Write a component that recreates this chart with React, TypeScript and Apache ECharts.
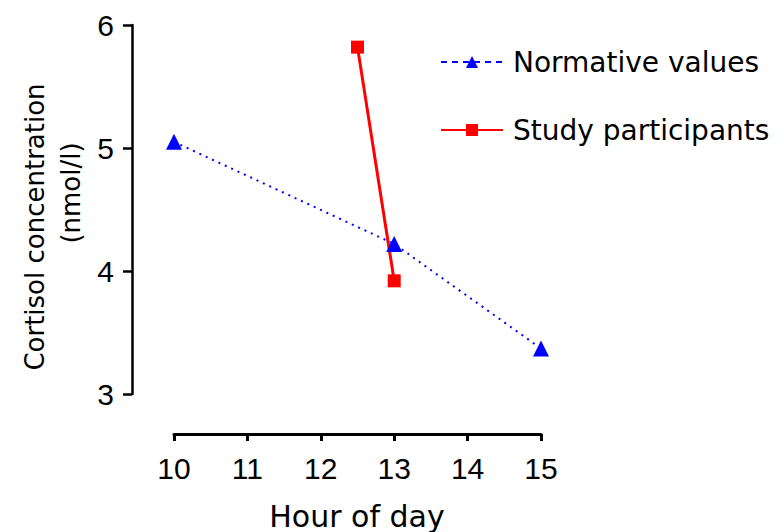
import React, { useEffect, useRef } from "react";
import * as echarts from "echarts";

const xTicks = [10, 11, 12, 13, 14, 15];
const yTicks = [3, 4, 5, 6];
const normativeHours = [10, 13, 15];
const normativeValues = [5.05, 4.22, 3.37];
const studyHours = [12.5, 13];
const studyValues = [5.82, 3.92];
const seriesNames = ["Normative values", "Study participants"];
const xTitle = "Hour of day";
const yTitle1 = "Cortisol concentration";
const yTitle2 = "(nmol/l)";

export default function App() {
  const ref = useRef<HTMLDivElement>(null);
  useEffect(() => {
    if (!ref.current) return;
    const chart = echarts.init(ref.current, null, { renderer: "svg" });
    const textFont = "'DejaVu Sans', sans-serif";
    const numFont = "'Liberation Sans', Arial, sans-serif";
    chart.setOption({
      animation: false,
      backgroundColor: "#ffffff",
      grid: { left: 174, right: 242, top: 25, bottom: 138, containLabel: false },
      xAxis: {
        type: "value",
        min: xTicks[0],
        max: xTicks[xTicks.length - 1],
        interval: 1,
        offset: 40,
        splitLine: { show: false },
        axisLine: { show: true, onZero: false, lineStyle: { color: "#000", width: 3 } },
        axisTick: { show: true, length: 7, lineStyle: { color: "#000", width: 3 } },
        axisLabel: { color: "#000", fontFamily: numFont, fontSize: 30, margin: 19 },
      },
      yAxis: {
        type: "value",
        min: yTicks[0],
        max: yTicks[yTicks.length - 1],
        interval: 1,
        offset: 42,
        splitLine: { show: false },
        axisLine: { show: true, onZero: false, lineStyle: { color: "#000", width: 2.5 } },
        axisTick: { show: true, length: 9, lineStyle: { color: "#000", width: 2.5 } },
        axisLabel: { color: "#000", fontFamily: numFont, fontSize: 30, margin: 18 },
      },
      legend: {
        orient: "vertical",
        left: 440,
        top: 47,
        padding: 0,
        itemWidth: 62,
        itemHeight: 15,
        itemGap: 38,
        textStyle: { color: "#000", fontFamily: textFont, fontSize: 28, lineHeight: 30, padding: [0, 0, 0, 5] },
        data: [
          { name: seriesNames[0], lineStyle: { type: [6, 5], width: 2, color: "#0000ff" } },
          { name: seriesNames[1] },
        ],
      },
      series: [
        {
          name: seriesNames[0],
          type: "line",
          data: normativeHours.map((h, i) => [h, normativeValues[i]]),
          symbol: "triangle",
          symbolSize: 16,
          itemStyle: { color: "#0000ff" },
          lineStyle: { color: "#0000ff", width: 2, type: [2, 5] },
        },
        {
          name: seriesNames[1],
          type: "line",
          data: studyHours.map((h, i) => [h, studyValues[i]]),
          symbol: "rect",
          symbolSize: 13,
          itemStyle: { color: "#ff0000" },
          lineStyle: { color: "#ff0000", width: 3 },
        },
      ],
      graphic: [
        {
          type: "text",
          x: 357,
          y: 516,
          style: { text: xTitle, fontFamily: textFont, fontSize: 30, fill: "#000", align: "center", verticalAlign: "middle" },
        },
        {
          type: "text",
          x: 35,
          y: 227,
          rotation: Math.PI / 2,
          style: { text: yTitle1, fontFamily: textFont, fontSize: 26, fill: "#000", align: "center", verticalAlign: "middle" },
        },
        {
          type: "text",
          x: 71,
          y: 193,
          rotation: Math.PI / 2,
          style: { text: yTitle2, fontFamily: textFont, fontSize: 26, fill: "#000", align: "center", verticalAlign: "middle" },
        },
      ],
    });
    return () => chart.dispose();
  }, []);
  return <div ref={ref} style={{ position: "fixed", left: 0, top: 0, width: 783, height: 532 }} />;
}
